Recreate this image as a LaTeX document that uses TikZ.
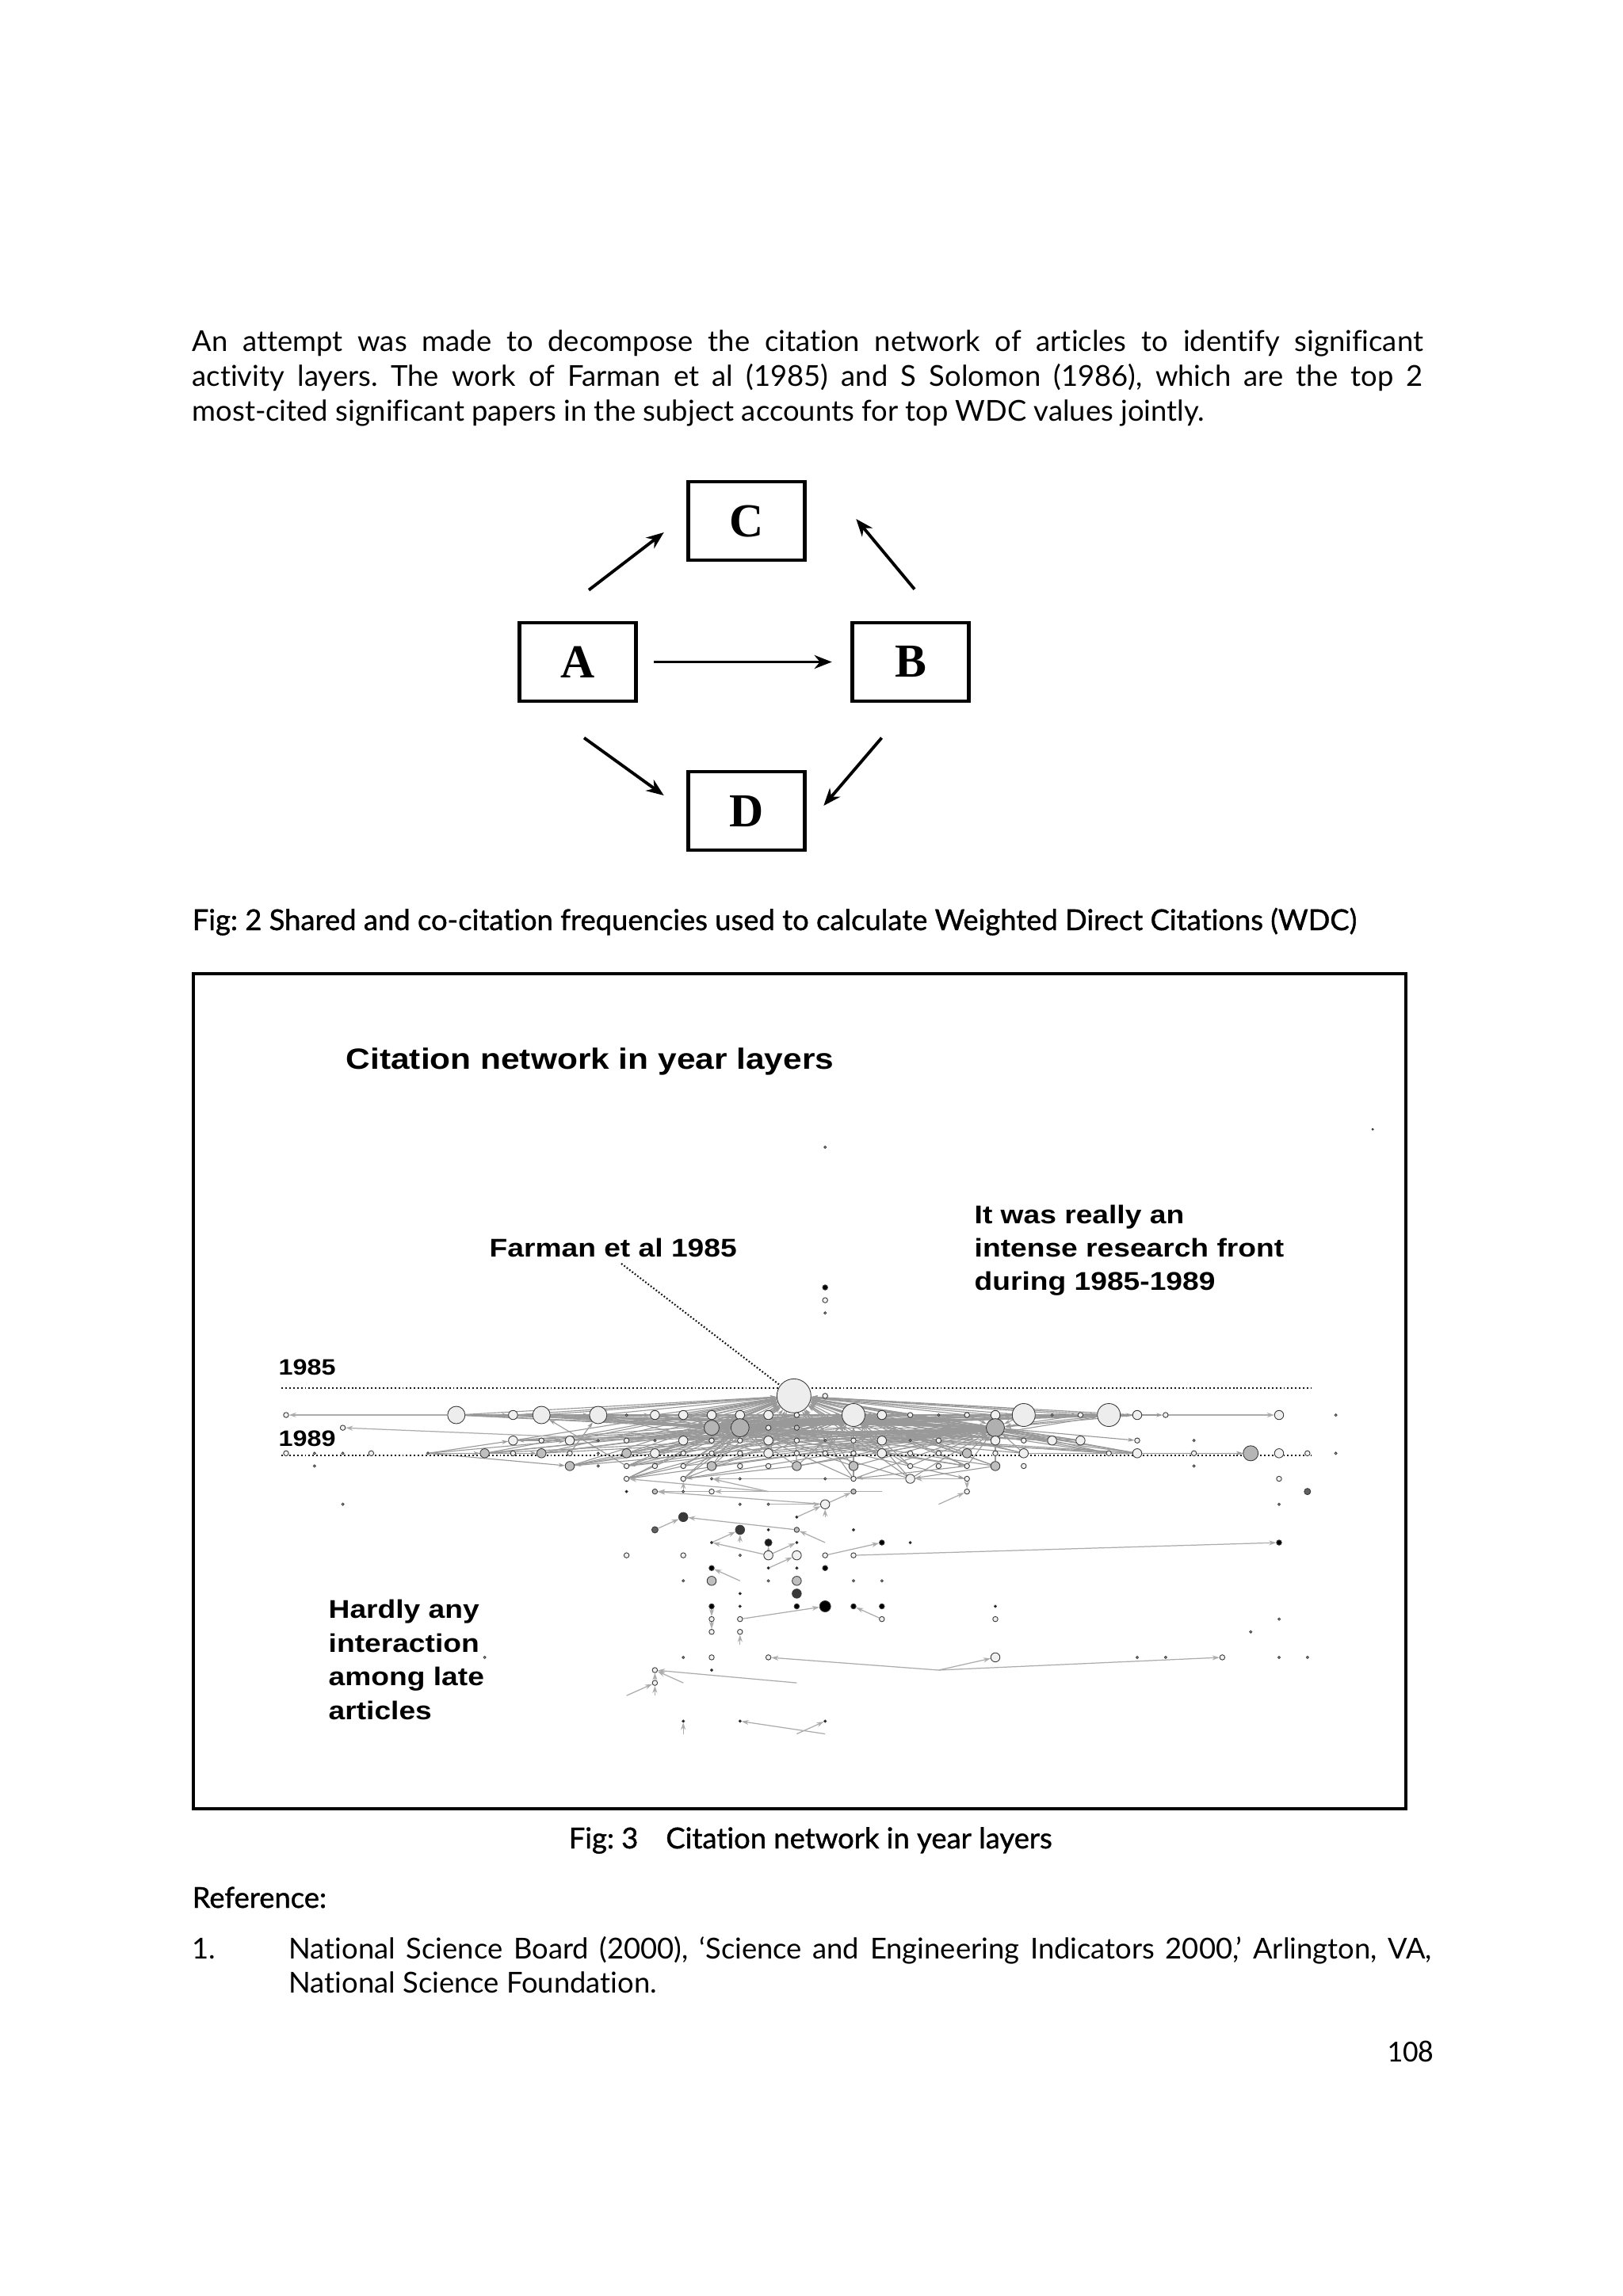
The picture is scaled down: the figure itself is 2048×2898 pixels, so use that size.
\documentclass[tikz,border=0pt]{standalone}
\usepackage{fontspec}
\setmainfont{Lato}[Ligatures=NoCommon]
\newfontfamily\capfont{Lato}[FakeBold=1.1,Ligatures=NoCommon]
\newfontfamily\pagefont{Carlito}
\newfontfamily\boxfont{Liberation Serif}
\newfontfamily\figfont{Liberation Sans}[FakeStretch=1.15]
\usetikzlibrary{arrows.meta,calc}

\pgfdeclarelayer{paper}
\pgfdeclarelayer{links}
\pgfsetlayers{paper,links,main}

\tikzset{
  para/.style={anchor=base west, inner sep=0pt, font=\fontsize{10.35}{12}\selectfont},
  capt/.style={para, font=\capfont\fontsize{10.35}{12}\selectfont},
  letterbox/.style={draw, line width=1.3pt, minimum width=14.7mm, minimum height=9.9mm,
    inner sep=0pt, font=\boxfont\bfseries\fontsize{17}{20}\selectfont},
  flow/.style={line width=1.1pt, -{Stealth[length=2.2mm,width=1.7mm,inset=0.7mm]}},
  figlabel/.style={anchor=base west, inner sep=0pt, font=\figfont\bfseries\fontsize{9.2}{11}\selectfont},
  yearline/.style={line width=0.8pt, gray!20!black, dash pattern=on 0.55pt off 0.85pt},
  leader/.style={line width=0.6pt, gray!15!black, dash pattern=on 0.5pt off 0.7pt},
  art/.style={circle, draw=gray!45!black, line width=0.25pt, inner sep=0pt},
  w1/.style={art, fill=gray!40, minimum size=0.3mm},
  w2/.style={art, fill=gray!12, minimum size=0.65mm},
  w3/.style={art, fill=gray!12, minimum size=1.15mm},
  w4/.style={art, fill=gray!14, minimum size=2.2mm},
  w5/.style={art, fill=gray!14, minimum size=2.9mm},
  w6/.style={art, fill=gray!14, minimum size=4.3mm},
  g2/.style={art, fill=gray!50, minimum size=0.65mm},
  g3/.style={art, fill=gray!50, minimum size=1.15mm},
  g4/.style={art, fill=gray!58, minimum size=1.9mm},
  g5/.style={art, fill=gray!62, minimum size=2.3mm},
  d2/.style={art, fill=gray!75!black, minimum size=0.8mm},
  d3/.style={art, fill=gray!45!black, minimum size=1.15mm},
  k1/.style={art, fill=black, minimum size=0.3mm},
  k2/.style={art, fill=black, minimum size=0.65mm},
  k3/.style={art, fill=gray!20!black, minimum size=0.9mm},
  k4/.style={art, fill=black, minimum size=1.4mm},
  cite/.style={draw=gray!65, line width=0.35pt, -{Stealth[length=0.9mm,width=0.6mm]}},
  band/.style={draw=gray!80, line width=0.32pt, -{Stealth[length=0.8mm,width=0.5mm]}}
}

\begin{document}
\frenchspacing
\begin{tikzpicture}[x=0.1mm, y=-0.1mm]
\begin{pgfonlayer}{paper}
  \fill[white] (0,0) rectangle (2048,2898);
\end{pgfonlayer}
\useasboundingbox (0,0) rectangle (2048,2898);

% opening paragraph
\node[para] (par1) at (242,443) {\makebox[155.3mm][s]{An attempt was made to decompose the citation network of articles to identify significant}};
\node[para] (par2) at (242,487) {\makebox[155.3mm][s]{activity layers. The work of Farman et al (1985) and S Solomon (1986), which are the top 2}};
\node[para] (par3) at (242,531) {most-cited significant papers in the subject accounts for top WDC values jointly.};

% Fig 2: four papers
\node[letterbox] (C) at (942,657.5) {C};
\node[letterbox] (A) at (729,835.5) {A};
\node[letterbox] (B) at (1149,835.5) {B};
\node[letterbox] (D) at (942,1023.5) {D};

\coordinate (ac0) at ([xshift=1.4mm,yshift=3.9mm]A.north);
\coordinate (ac1) at ([xshift=-2.85mm,yshift=-1.45mm]C.west);
\coordinate (bc0) at ([xshift=0.5mm,yshift=4mm]B.north);
\coordinate (bc1) at ([xshift=6.25mm,yshift=0.25mm]C.east);
\coordinate (ad0) at ([xshift=0.8mm,yshift=-4.4mm]A.south);
\coordinate (ad1) at ([xshift=-2.85mm,yshift=1.95mm]D.west);
\coordinate (bd0) at ([xshift=-3.65mm,yshift=-4.4mm]B.south);
\coordinate (bd1) at ([xshift=2.15mm,yshift=0.65mm]D.east);

\draw[flow, shorten <=2mm, shorten >=2.35mm] (A) -- (B);
\draw[flow] (ac0) -- (ac1);
\draw[flow] (bc0) -- (bc1);
\draw[flow] (ad0) -- (ad1);
\draw[flow] (bd0) -- (bd1);

\node[capt] (cap2) at (242,1174) {Fig: 2 Shared and co-citation frequencies used to calculate Weighted Direct Citations (WDC)};

% Fig 3: citation network in year layers
\draw[line width=0.9pt] (244,1229) rectangle (1774,2283);

\node[figlabel, font=\figfont\bfseries\fontsize{10.5}{12}\selectfont] (title) at (436,1349) {Citation network in year layers};
\node[figlabel] (farmanlbl) at (617,1586) {Farman et al 1985};
\node[figlabel] (front1) at (1229,1544) {It was really an};
\node[figlabel] (front2) at (1229,1586) {intense research front};
\node[figlabel] (front3) at (1229,1628) {during 1985-1989};
\node[figlabel] (late1) at (414,2042) {Hardly any};
\node[figlabel] (late2) at (414,2085) {interaction};
\node[figlabel] (late3) at (414,2127) {among late};
\node[figlabel] (late4) at (414,2170) {articles};
\node[figlabel, font=\figfont\bfseries\fontsize{8}{10}\selectfont] (yr85) at (351,1735) {1985};
\node[figlabel, font=\figfont\bfseries\fontsize{8}{10}\selectfont] (yr89) at (351,1825) {1989};

\coordinate (yr85w) at (355,1752);
\coordinate (yr85e) at (1654,1752);
\coordinate (yr89w) at (355,1837);
\coordinate (yr89e) at (1654,1837);
\draw[yearline] (yr85w) -- (yr85e);
\draw[yearline] (yr89w) -- (yr89e);

\begin{scope}[shift={(361,1786)}, x=3.58mm, y=-1.61mm]
  % isolated early papers
  \node[w6] (farman) at (17.9,-1.5) {};
  \node[w2] (n19-h) at (19,-1.5) {};
  \node[w1] (top1) at (19,-21) {};
  \node[k2] (top2) at (19,-10) {};
  \node[w2] (top3) at (19,-9) {};
  \node[w1] (top4) at (19,-8) {};
  \node[k1, minimum size=0.2mm] (speck) at (38.3,-22.4) {};
  % layered articles
  \foreach \c/\r/\k in {
    0/0/w2, 6/0/w4, 8/0/w3, 9/0/w4, 11/0/w4, 12/0/w1, 13/0/w3, 14/0/w3, 15/0/w3,
    16/0/w3, 17/0/w3, 18/0/w2, 20/0/w5, 21/0/w3, 22/0/w2, 23/0/w1, 24/0/w2, 25/0/w3,
    26/0/w5, 27/0/w1, 28/0/w2, 29/0/w5, 30/0/w3, 31/0/w2, 35/0/w3, 37/0/w1,
    2/1/w2, 15/1/g4, 16/1/g5, 17/1/w2, 18/1/g2, 25/1/g5,
    8/2/w3, 9/2/w2, 10/2/w3, 11/2/w1, 12/2/w2, 13/2/w1, 14/2/w3, 15/2/w2, 16/2/w2,
    17/2/w3, 18/2/w2, 19/2/w1, 20/2/w2, 21/2/w3, 22/2/w1, 23/2/w2, 25/2/w3, 26/2/w2,
    27/2/w3, 28/2/w3, 30/2/w2, 32/2/w1,
    0/3/w2, 1/3/w1, 2/3/w1, 3/3/w2, 5/3/w1, 7/3/g3, 8/3/w2, 9/3/g3, 10/3/w2, 11/3/w1,
    12/3/g3, 13/3/w3, 14/3/w2, 15/3/w2, 16/3/w2, 17/3/w3, 18/3/w2, 19/3/w2, 20/3/w2,
    21/3/w3, 22/3/w2, 23/3/w2, 24/3/g3, 25/3/w2, 26/3/w3, 29/3/w2, 30/3/w3, 32/3/w2,
    34/3/g4, 35/3/w3, 36/3/w2, 37/3/w1,
    1/4/w1, 10/4/g3, 11/4/w1, 12/4/w2, 13/4/w2, 14/4/w2, 15/4/g3, 16/4/w2, 17/4/w2,
    18/4/g3, 20/4/g3, 22/4/w2, 23/4/w2, 24/4/w2, 25/4/g3, 26/4/w2, 32/4/w1,
    12/5/w2, 14/5/w2, 15/5/w1, 16/5/w1, 19/5/w1, 20/5/w2, 22/5/w3, 24/5/w2, 35/5/w2,
    12/6/k1, 13/6/g2, 14/6/w1, 15/6/w2, 20/6/g2, 24/6/w2, 36/6/d2,
    2/7/w1, 16/7/w1, 17/7/w1, 19/7/w3, 35/7/w1,
    14/8/d3, 18/8/k1,
    13/9/d2, 16/9/d3, 17/9/k1, 18/9/g2, 20/9/k1,
    15/10/k1, 17/10/k3, 18/10/k1, 21/10/k2, 22/10/k1, 35/10/k2,
    12/11/w2, 14/11/w2, 16/11/w1, 17/11/w3, 18/11/w3, 19/11/w2, 20/11/w2,
    15/12/k2, 17/12/k1, 18/12/k1, 19/12/k2,
    14/13/w1, 15/13/g3, 17/13/w1, 18/13/g3, 20/13/w1, 21/13/w1,
    16/14/k1, 18/14/d3,
    15/15/k2, 16/15/k1, 18/15/k2, 19/15/k4, 20/15/k2, 21/15/k2, 25/15/k1,
    15/16/w2, 16/16/w2, 21/16/w2, 25/16/w2, 35/16/w1,
    15/17/w2, 16/17/w2, 34/17/w1,
    7/19/w1, 14/19/w1, 15/19/w2, 17/19/w2, 25/19/w3, 30/19/w1, 31/19/w1, 33/19/w2,
    35/19/w1, 36/19/w1,
    13/20/w2, 15/20/k1, 13/21/w2,
    14/24/k1, 16/24/k1, 19/24/k1}
    \node[\k] (n\c-\r) at (\c,\r) {};
  % loose ends of citation links
  \coordinate (q1) at (16,18);
  \coordinate (q2) at (23,20);
  \coordinate (q3) at (18,21);
  \coordinate (q4) at (14,21);
  \coordinate (q5) at (12,22);
  \coordinate (q6) at (13,22);
  \coordinate (q7) at (19,25);
  \coordinate (q8) at (18,25);
  \coordinate (q9) at (14,25);
  \coordinate (q10) at (17,6);
  \coordinate (q11) at (23,7);
  \coordinate (q12) at (21,6);
  \coordinate (q13) at (19,10);
  \coordinate (q14) at (16,13);
  \coordinate (q15) at (19,8);
  \coordinate (q16) at (16,10);

  \begin{pgfonlayer}{links}
    % dense front 1985-1989
    \foreach \a in {n6-0,n8-0,n9-0,n11-0,n13-0,n14-0,n15-0,n16-0,n17-0,n18-0,n21-0,
        n22-0,n24-0,n25-0,n26-0,n28-0,n29-0,n30-0,n17-1,n18-1} {
      \draw[band] (\a) -- (farman);
      \draw[band] (\a) -- (n16-1);
      \draw[band] (\a) -- (n25-1);
      \draw[band] (\a) -- (n15-1);
      \draw[band] (\a) -- (n20-0);
    }
    \foreach \a in {n8-2,n10-2,n12-2,n14-2,n16-2,n17-2,n19-2,n21-2,n23-2,n25-2,n27-2,n28-2,
        n7-3,n9-3,n12-3,n13-3,n15-3,n17-3,n19-3,n21-3,n24-3,n26-3,n29-3,n30-3,
        n10-4,n12-4,n14-4,n15-4,n18-4,n20-4,n22-4,n24-4,n25-4,
        n12-5,n14-5,n20-5,n22-5} {
      \draw[band] (\a) -- (farman);
      \draw[band] (\a) -- (n16-1);
      \draw[band] (\a) -- (n25-1);
      \draw[band] (\a) -- (n20-0);
    }
    \foreach \a/\b in {n16-1/farman, n25-1/farman, n15-1/farman, n20-0/farman,
        n25-1/n16-1, n15-1/n25-1, n20-0/n16-1, n20-0/n25-1, n15-1/n20-0,
        n6-0/n8-0, n8-0/n9-0, n9-0/n11-0, n11-0/n13-0, n6-0/n11-0,
        n9-0/n20-0, n11-0/n20-0, n20-0/n26-0, n26-0/n29-0, n20-0/n29-0, n11-0/n26-0,
        n29-0/n30-0, n30-0/n31-0, n9-0/n26-0, n26-0/n28-0, n6-0/n26-0, n9-0/n29-0,
        n10-3/n11-0, n12-4/n9-0, n17-3/n11-0, n21-3/n11-0, n14-2/n26-0, n18-4/n29-0,
        n5-3/n7-3, n5-3/n8-2, n5-3/n10-2, n5-3/n9-3, n5-3/n10-4, n10-2/n8-2,
        n26-3/n34-3, n30-3/n34-3, n25-1/n30-2, n21-2/n30-3,
        n14-4/n12-5, n18-4/n14-5, n24-4/n20-5, n22-4/n24-5, n25-4/n22-5,
        n15-3/n12-4, n13-3/n10-4, n21-3/n24-4}
      \draw[band] (\a) -- (\b);
    \draw[cite] (n6-0) -- (n0-0);
    \draw[cite] (n31-0) -- (n35-0);
    \draw[cite] (n13-2) -- (n2-1);
    % sparse later layers
    \foreach \a/\b in {q10/n12-5, q10/n15-5, n22-5/n15-5, n24-5/n22-5, n24-5/n24-6,
        q11/n24-6, n14-6/n14-5, n19-7/n13-6, n15-6/n13-6, q12/n15-6, n17-7/n19-7,
        n19-7/n20-6, n18-8/n19-7, q15/n19-7, n18-9/n14-8, n13-9/n14-8, q13/n18-9,
        n15-10/n16-9, q16/n16-9, n17-11/n15-10, n17-11/n17-10, n17-11/n18-10,
        n17-12/n18-11, n19-11/n21-10, n20-11/n35-10, q14/n15-12,
        n16-16/n19-15, n21-16/n20-15, n15-15/n15-16, n15-16/n15-17, q1/n16-17,
        q2/n17-19, q2/n25-19, q2/n33-19, q3/n13-20, q4/n13-20, q5/n13-21, q6/n13-21,
        n13-21/n13-20, q7/n16-24, q8/n19-24, q9/n14-24}
      \draw[cite] (\a) -- (\b);
  \end{pgfonlayer}
\end{scope}

\draw[leader, shorten <=1.3mm] (farmanlbl.south) -- (farman);

\node[capt] (cap3) at (717,2333) {Fig: 3\hspace{3.5mm}Citation network in year layers};

% references
\node[capt] (refhead) at (242,2408) {Reference:};
\node[para] (refnum) at (242,2472) {1.};
\node[para] (ref1a) at (364,2472) {\makebox[144.2mm][s]{National Science Board (2000), ‘Science and Engineering Indicators 2000,’ Arlington, VA,}};
\node[para] (ref1b) at (364,2515) {National Science Foundation.};

\node[anchor=base east, inner sep=0pt, font=\pagefont\fontsize{11}{13}\selectfont] (pageno) at (1810,2602) {108};
\end{tikzpicture}
\end{document}
